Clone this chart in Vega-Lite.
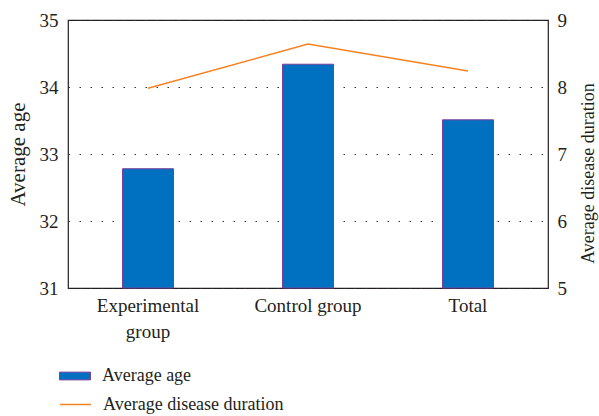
{
  "$schema": "https://vega.github.io/schema/vega-lite/v6.json",
  "width": 480,
  "height": 268,
  "autosize": {"type": "none"},
  "padding": {"left": 68, "top": 20, "right": 51, "bottom": 128},
  "config": {
    "font": "Liberation Serif, DejaVu Serif, serif",
    "view": {"stroke": "#231f20", "strokeWidth": 1.2},
    "axis": {
      "domain": false,
      "ticks": false,
      "labelFont": "Liberation Serif, DejaVu Serif, serif",
      "titleFont": "Liberation Serif, DejaVu Serif, serif",
      "labelColor": "#231f20",
      "titleColor": "#231f20",
      "titleFontWeight": "normal",
      "labelFontSize": 19,
      "titleFontSize": 19
    },
    "legend": {
      "labelFont": "Liberation Serif, DejaVu Serif, serif",
      "labelFontSize": 18,
      "labelColor": "#231f20",
      "labelLimit": 400
    }
  },
  "data": {
    "values": [
      {"group": "Experimental group", "age": 32.78, "duration": 7.98, "s1": "Average age", "s2": "Average disease duration"},
      {"group": "Control group", "age": 34.34, "duration": 8.64, "s1": "Average age", "s2": "Average disease duration"},
      {"group": "Total", "age": 33.51, "duration": 8.24, "s1": "Average age", "s2": "Average disease duration"}
    ]
  },
  "encoding": {
    "x": {
      "field": "group",
      "type": "nominal",
      "sort": null,
      "scale": {"paddingInner": 0, "paddingOuter": 0},
      "axis": {
        "title": null,
        "labelAngle": 0,
        "labelPadding": 8,
        "labelLineHeight": 26,
        "labelExpr": "datum.label == 'Experimental group' ? ['Experimental', 'group'] : datum.label"
      }
    }
  },
  "layer": [
    {
      "mark": {"type": "bar", "width": 51, "stroke": "#7a3e9d", "strokeWidth": 1},
      "encoding": {
        "y": {
          "field": "age",
          "type": "quantitative",
          "scale": {"domain": [31, 35], "zero": false},
          "axis": {
            "orient": "left",
            "title": "Average age",
            "titleFontSize": 21,
            "values": [31, 32, 33, 34, 35],
            "labelPadding": 10,
            "titlePadding": 11,
            "grid": true,
            "gridColor": "#333333",
            "gridDash": [1.5, 9.5],
            "gridWidth": 1
          }
        },
        "y2": {"datum": 31},
        "fill": {
          "field": "s1",
          "type": "nominal",
          "scale": {"range": ["#0070c0"]},
          "legend": {
            "title": null,
            "orient": "none",
            "legendX": -9,
            "legendY": 340,
            "symbolType": "M-1,-0.25H1V0.25H-1Z",
            "symbolSize": 961,
            "symbolStrokeColor": "#7a3e9d",
            "symbolStrokeWidth": 1,
            "labelOffset": 11
          }
        }
      }
    },
    {
      "mark": {"type": "line", "strokeWidth": 1.5},
      "encoding": {
        "y": {
          "field": "duration",
          "type": "quantitative",
          "scale": {"domain": [5, 9], "zero": false},
          "axis": {
            "orient": "right",
            "title": "Average disease duration",
            "titleFontSize": 18,
            "titleAngle": 270,
            "titleX": 40,
            "titleY": 153,
            "titleAlign": "center",
            "titleBaseline": "middle",
            "values": [5, 6, 7, 8, 9],
            "labelPadding": 9,
            "grid": false
          }
        },
        "stroke": {
          "field": "s2",
          "type": "nominal",
          "scale": {"range": ["#f58220"]},
          "legend": {
            "title": null,
            "orient": "none",
            "legendX": -9,
            "legendY": 368,
            "symbolType": "stroke",
            "symbolSize": 961,
            "symbolStrokeWidth": 1.5,
            "labelOffset": 11
          }
        }
      }
    }
  ],
  "resolve": {"scale": {"y": "independent", "fill": "independent", "stroke": "independent"}}
}
